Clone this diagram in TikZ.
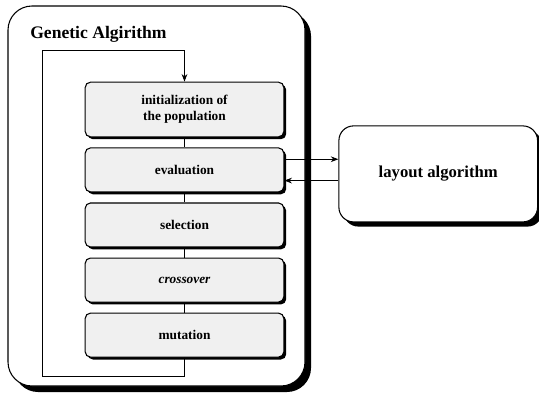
\documentclass[tikz,border=0pt]{standalone}
\usepackage{fontspec}
\setmainfont{Liberation Serif}
\usetikzlibrary{positioning, arrows.meta, shadows}
\tikzset{
  > = {Stealth[length = 2mm]},
  blackshadow/.style = {drop shadow = {shadow xshift = #1, shadow yshift = -#1,
    fill = black, opacity = 1}},
  outerbox/.style = {draw, thick, fill = white, rounded corners = 18pt,
    minimum width = 222.75pt, minimum height = 285pt, blackshadow = 4.5pt},
  stepbox/.style = {draw, thick, fill = gray!12, rounded corners = 4pt, align = center,
    minimum width = 149pt, minimum height = 33pt, inner sep = 2pt,
    font = \bfseries\fontsize{10}{12}\selectfont, blackshadow = 1.8pt},
  layoutbox/.style = {draw, thick, fill = white, rounded corners = 11pt,
    minimum width = 149pt, minimum height = 72pt,
    font = \bfseries\fontsize{12.5}{15}\selectfont, blackshadow = 3.5pt},
  link/.style = {semithick}
}

\begin{document}
\begin{tikzpicture}[x = 0.75pt, y = -0.75pt]
\useasboundingbox (0,0) rectangle (539,396);

%% Genetic algorithm frame
\node [outerbox] (ga) at (156.5,196) {};
\node [anchor = base west, font = \bfseries\fontsize{13.2}{16}\selectfont, inner sep = 0]
  (title) at (30,38) {Genetic Algirithm};

%% Steps
\node [stepbox, minimum height = 41pt] (init) at (184.5,109.5) {initialization of\\the population};
\node [stepbox] (eval) [below = 7.5pt of init] {evaluation};
\node [stepbox] (sel) [below = 7.5pt of eval] {selection};
\node [stepbox] (cross) [below = 7.5pt of sel] {\itshape crossover};
\node [stepbox] (mut) [below = 7.5pt of cross] {mutation};

\draw [link] (init) -- (eval);
\draw [link] (eval) -- (sel);
\draw [link] (sel) -- (cross);
\draw [link] (cross) -- (mut);

%% Loop back
\coordinate (loopbl) at (42,376);
\coordinate (looptl) at (42,50);
\draw [link, ->] (mut.south) -- (mut.south |- loopbl) -- (loopbl) -- (looptl)
  -- (looptl -| init.north) -- (init.north);

%% Layout algorithm
\node [layoutbox, yshift = -3pt] (layout) [right = 40.5pt of eval] {layout algorithm};
\draw [link, ->] ([yshift = 8pt]eval.east) -- ([yshift = 8pt]eval.east -| layout.west);
\draw [link, ->] ([yshift = -8pt]eval.east -| layout.west) -- ([yshift = -8pt]eval.east);

\end{tikzpicture}
\end{document}
